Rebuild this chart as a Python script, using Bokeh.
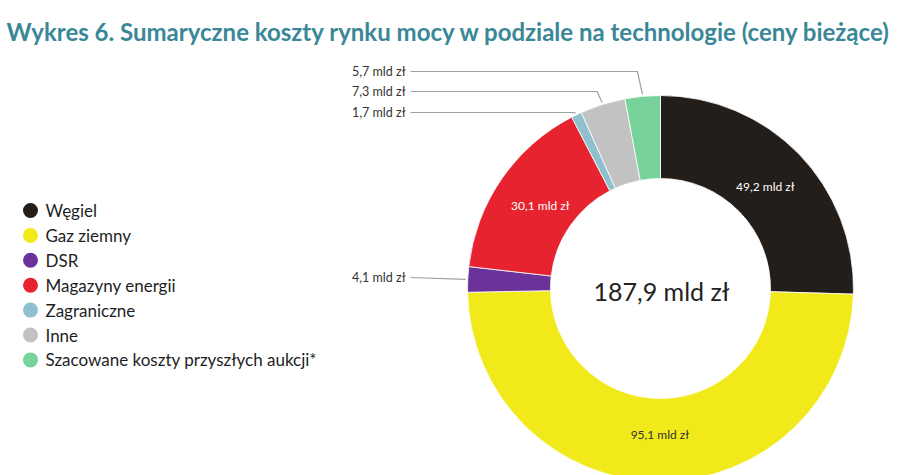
import math
from bokeh.plotting import figure
from bokeh.models import Range1d, ColumnDataSource, Label
from bokeh.core.properties import value
from bokeh.embed import file_html
from bokeh.resources import INLINE

# ---- data ----
categories = ["Węgiel", "Gaz ziemny", "DSR", "Magazyny energii", "Zagraniczne", "Inne",
              "Szacowane koszty przyszłych aukcji*"]
values = [49.2, 95.1, 4.1, 30.1, 1.7, 7.3, 5.7]
value_labels = ["49,2 mld zł", "95,1 mld zł", "4,1 mld zł", "30,1 mld zł", "1,7 mld zł",
                "7,3 mld zł", "5,7 mld zł"]
total_label = "187,9 mld zł"
title_text = "Wykres 6. Sumaryczne koszty rynku mocy w podziale na technologie (ceny bieżące)"

colors = ["#231e19", "#f2e91b", "#6b3399", "#e6232e", "#8fc0d0", "#c2c2c2", "#77d399"]
inside = [True, True, False, True, False, False, False]
inside_text_colors = ["#ffffff", "#333333", None, "#ffffff", None, None, None]

W, H = 920, 475
cx, cy = 660, H - 288
r_out, r_in = 193, 110
r_lab = 146

p = figure(width=W, height=H, x_range=Range1d(0, W), y_range=Range1d(0, H),
           output_backend="svg", toolbar_location=None, min_border=0)
p.axis.visible = False
p.grid.visible = False
p.outline_line_color = None
p.background_fill_color = "white"
p.border_fill_color = "white"

tot = sum(values)
starts, ends, mids = [], [], []
cum = 0.0
for v in values:
    a0 = math.pi / 2 - 2 * math.pi * cum / tot
    a1 = math.pi / 2 - 2 * math.pi * (cum + v) / tot
    starts.append(a0)
    ends.append(a1)
    mids.append((a0 + a1) / 2)
    cum += v

src = ColumnDataSource(dict(x=[cx] * len(values), y=[cy] * len(values),
                            start=starts, end=ends, color=colors))
p.annular_wedge(x="x", y="y", inner_radius=r_in, outer_radius=r_out,
                start_angle="start", end_angle="end", direction="clock",
                fill_color="color", line_color="white", line_width=0.8, source=src)

# inside labels
ix, iy, it, ic = [], [], [], []
for i in range(len(values)):
    if inside[i]:
        ix.append(cx + r_lab * math.cos(mids[i]))
        iy.append(cy + r_lab * math.sin(mids[i]))
        it.append(value_labels[i])
        ic.append(inside_text_colors[i])
p.text(x=ix, y=iy, text=it, text_color=ic, text_font=value("Lato"), text_font_size="12px",
       text_align="center", text_baseline="middle")

# outside labels with leader lines
out_rows = {6: H - 71, 5: H - 91, 4: H - 112, 2: H - 277}
for i, ly in out_rows.items():
    ex = cx + (r_out + 2) * math.cos(mids[i])
    ey = cy + (r_out + 2) * math.sin(mids[i])
    if i == 2:
        xs = [410, ex]
        ys = [ly, ey]
    else:
        elbow_x = ex - 5
        xs = [410, elbow_x, ex]
        ys = [ly, ly, ey]
    p.line(xs, ys, line_color="#a0a0a0", line_width=1.2)
    p.text(x=[405], y=[ly], text=[value_labels[i]], text_font=value("Lato"),
           text_font_size="12.5px", text_color="#333333", text_align="right",
           text_baseline="middle")

# center total
p.text(x=[cx + 1], y=[cy - 2], text=[total_label], text_font=value("Lato"),
       text_font_size="25px", text_color="#222222", text_align="center",
       text_baseline="middle")

# legend
leg_y = [H - (210 + 24.9 * k) for k in range(len(categories))]
p.scatter(x=[30] * len(categories), y=leg_y, size=15, marker="circle",
          fill_color=colors, line_color=None)
p.text(x=[45] * len(categories), y=leg_y, text=categories, text_font=value("Lato"),
       text_font_size="17px", text_color="#1e1e1e", text_align="left",
       text_baseline="middle")

# title
p.add_layout(Label(x=6, y=H - 31, text=title_text, text_font="Lato", text_font_size="24px",
                   text_font_style="bold", text_color="#3a8797", text_baseline="middle"))

open("out.html", "w").write(file_html(p, INLINE))
